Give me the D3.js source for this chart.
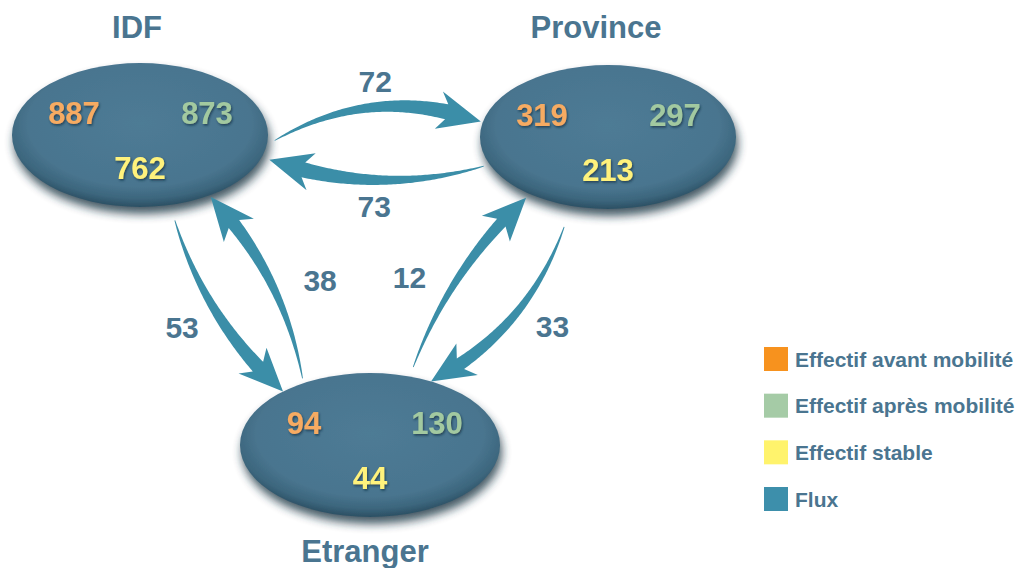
<!DOCTYPE html>
<html>
<head>
<meta charset="utf-8">
<script src="https://cdn.jsdelivr.net/npm/d3@7"></script>
<style>
  html, body { margin: 0; padding: 0; background: #fff; }
  svg { display: block; font-family: "Liberation Sans", Arial, sans-serif; }
</style>
</head>
<body>
<div id="chart"></div>
<script>
(function() {
    'use strict';

    // Data
    var nodes = ['IDF', 'Province', 'Etranger'];
    var avant = [887, 319, 94];     // Effectif avant mobilité
    var apres = [873, 297, 130];    // Effectif après mobilité
    var stable = [762, 213, 44];    // Effectif stable

    var fluxFrom = ['IDF', 'Province', 'IDF', 'Etranger', 'Etranger', 'Province'];
    var fluxTo = ['Province', 'IDF', 'Etranger', 'IDF', 'Province', 'Etranger'];
    var fluxValues = [72, 73, 53, 38, 12, 33];

    var legendLabels = ['Effectif avant mobilité', 'Effectif après mobilité', 'Effectif stable', 'Flux'];
    var legendColors = ['#f7921e', '#a5cba6', '#fff36c', '#3d8fab'];

    // Layout (diagram geometry)
    var nodeCenters = { IDF: [140, 135], Province: [608, 137], Etranger: [370, 445] };
    var nodeRadii = { IDF: [128, 72], Province: [128, 72], Etranger: [130, 72] };
    var titleOffsets = { IDF: [-3, -97], Province: [-12, -99], Etranger: [-5, 117] };
    // angle on source / target ellipse (deg), gap outside, bend, label offset [tangent, normal]
    var fluxGeom = [
        { a0: 4, g0: 7, a1: 192, g1: 2, sag: 24, lab: [2, 26] },
        { a0: 158, g0: 6, a1: 18, g1: 8, sag: 17, lab: [1, 26] },
        { a0: 76, g0: 16, a1: 228, g1: 0, sag: -14, lab: [-7, -37] },
        { a0: 240, g0: 5, a1: 57, g1: 2, sag: -15, lab: [-22, -45] },
        { a0: 288, g0: 10, a1: 128, g1: 5, sag: 12, lab: [-29, 41] },
        { a0: 107, g0: 22, a1: 298, g1: 0, sag: 20, lab: [-19, 36] }
    ];

    var textColor = '#4a7590';
    var numColors = { avant: '#f6ab62', apres: '#a2c9a0', stable: '#fff27c' };

    var width = 1017, height = 568;
    var svg = d3.select('#chart').append('svg')
        .attr('width', width)
        .attr('height', height);

    var defs = svg.append('defs');

    var grad = defs.append('radialGradient')
        .attr('id', 'ellFill')
        .attr('cx', '50%').attr('cy', '42%').attr('r', '58%');
    grad.append('stop').attr('offset', '0%').attr('stop-color', '#4e7b95');
    grad.append('stop').attr('offset', '75%').attr('stop-color', '#49758f');
    grad.append('stop').attr('offset', '90%').attr('stop-color', '#3c667d');
    grad.append('stop').attr('offset', '100%').attr('stop-color', '#2b4f63');

    var blur = defs.append('filter').attr('id', 'shadowBlur')
        .attr('x', '-20%').attr('y', '-20%').attr('width', '140%').attr('height', '140%');
    blur.append('feGaussianBlur').attr('stdDeviation', 5);

    var soft = defs.append('filter').attr('id', 'soft');
    soft.append('feGaussianBlur').attr('stdDeviation', 0.7);

    var txtShadow = defs.append('filter').attr('id', 'txtShadow')
        .attr('x', '-20%').attr('y', '-20%').attr('width', '140%').attr('height', '160%');
    txtShadow.append('feDropShadow')
        .attr('dx', 1).attr('dy', 1.5).attr('stdDeviation', 1)
        .attr('flood-color', '#10283a').attr('flood-opacity', 0.7);

    function ellPoint(name, angle, gap) {
        var c = nodeCenters[name], r = nodeRadii[name];
        var t = angle * Math.PI / 180;
        return [c[0] + (r[0] + gap) * Math.cos(t), c[1] + (r[1] + gap) * Math.sin(t)];
    }

    var shaftScale = d3.scaleLinear().domain([0, 80]).range([10, 15]);

    function arrowShape(p0, p2, sag, shaftW) {
        var dx = p2[0] - p0[0], dy = p2[1] - p0[1];
        var len = Math.hypot(dx, dy);
        var n = [dy / len, -dx / len];
        var c = [(p0[0] + p2[0]) / 2 + n[0] * sag * 2, (p0[1] + p2[1]) / 2 + n[1] * sag * 2];
        var headL = 34, headW = 38, barb = 8;

        function B(s) {
            var u = 1 - s;
            return [u * u * p0[0] + 2 * u * s * c[0] + s * s * p2[0],
                    u * u * p0[1] + 2 * u * s * c[1] + s * s * p2[1]];
        }
        function T(s) {
            var tx = 2 * (1 - s) * (c[0] - p0[0]) + 2 * s * (p2[0] - c[0]);
            var ty = 2 * (1 - s) * (c[1] - p0[1]) + 2 * s * (p2[1] - c[1]);
            var l = Math.hypot(tx, ty);
            return [tx / l, ty / l];
        }

        var N = 100, pts = [], cum = [0];
        for (var i = 0; i <= N; i++) {
            pts.push(B(i / N));
            if (i > 0) cum.push(cum[i - 1] + Math.hypot(pts[i][0] - pts[i - 1][0], pts[i][1] - pts[i - 1][1]));
        }
        var total = cum[N], hi = N;
        while (hi > 0 && total - cum[hi] < headL) hi--;
        var sh = hi / N;

        var left = [], right = [];
        for (var j = 0; j <= hi; j++) {
            var s = j / N, p = B(s), t = T(s);
            var nl = [t[1], -t[0]];
            var w = 0.4 + (shaftW / 2) * Math.pow(s / sh, 0.9);
            left.push([p[0] + nl[0] * w, p[1] + nl[1] * w]);
            right.push([p[0] - nl[0] * w, p[1] - nl[1] * w]);
        }
        var pb = B(sh), tb = T(sh), nb = [tb[1], -tb[0]];
        var hl = [pb[0] + nb[0] * headW / 2 - tb[0] * barb, pb[1] + nb[1] * headW / 2 - tb[1] * barb];
        var hr = [pb[0] - nb[0] * headW / 2 - tb[0] * barb, pb[1] - nb[1] * headW / 2 - tb[1] * barb];
        var poly = left.concat([hl, p2, hr]).concat(right.reverse());
        return { poly: poly, mid: B(0.5), tan: T(0.5) };
    }

    // Flux arrows
    var arrows = fluxValues.map(function(v, i) {
        var g = fluxGeom[i];
        var p0 = ellPoint(fluxFrom[i], g.a0, g.g0);
        var p2 = ellPoint(fluxTo[i], g.a1, g.g1);
        var shp = arrowShape(p0, p2, g.sag, shaftScale(v));
        var nl = [shp.tan[1], -shp.tan[0]];
        shp.label = [shp.mid[0] + shp.tan[0] * g.lab[0] + nl[0] * g.lab[1],
                     shp.mid[1] + shp.tan[1] * g.lab[0] + nl[1] * g.lab[1]];
        shp.value = v;
        return shp;
    });

    // Ellipses
    var nodeG = svg.append('g').selectAll('g')
        .data(nodes)
        .join('g')
        .attr('transform', function(d) { return 'translate(' + nodeCenters[d][0] + ',' + nodeCenters[d][1] + ')'; });

    nodeG.append('ellipse')
        .attr('cx', 2).attr('cy', 7)
        .attr('rx', function(d) { return nodeRadii[d][0]; })
        .attr('ry', function(d) { return nodeRadii[d][1]; })
        .attr('fill', '#16303f')
        .attr('opacity', 0.8)
        .attr('filter', 'url(#shadowBlur)');

    nodeG.append('ellipse')
        .attr('rx', function(d) { return nodeRadii[d][0]; })
        .attr('ry', function(d) { return nodeRadii[d][1]; })
        .attr('fill', 'url(#ellFill)')
        .attr('filter', 'url(#soft)');

    var line = d3.line().curve(d3.curveLinearClosed);

    svg.append('g').selectAll('path')
        .data(arrows)
        .join('path')
        .attr('d', function(d) { return line(d.poly); })
        .attr('fill', '#3b8ea8')
        .attr('filter', 'url(#soft)');

    // Flux labels
    svg.append('g').selectAll('text')
        .data(arrows)
        .join('text')
        .attr('x', function(d) { return d.label[0]; })
        .attr('y', function(d) { return d.label[1]; })
        .attr('dy', '0.36em')
        .attr('text-anchor', 'middle')
        .attr('font-size', 30)
        .attr('font-weight', 'bold')
        .attr('fill', textColor)
        .text(function(d) { return d.value; });

    // Node titles
    svg.append('g').selectAll('text')
        .data(nodes)
        .join('text')
        .attr('x', function(d) { return nodeCenters[d][0] + titleOffsets[d][0]; })
        .attr('y', function(d) { return nodeCenters[d][1] + titleOffsets[d][1]; })
        .attr('text-anchor', 'middle')
        .attr('font-size', 31)
        .attr('font-weight', 'bold')
        .attr('fill', textColor)
        .text(function(d) { return d; });

    // Numbers inside ellipses
    var numSpecs = [
        { key: 'avant', values: avant, dx: -66, dy: -11 },
        { key: 'apres', values: apres, dx: 67, dy: -11 },
        { key: 'stable', values: stable, dx: 0, dy: 44 }
    ];
    numSpecs.forEach(function(spec) {
        svg.append('g').selectAll('text')
            .data(nodes)
            .join('text')
            .attr('x', function(d) { return nodeCenters[d][0] + spec.dx; })
            .attr('y', function(d) { return nodeCenters[d][1] + spec.dy; })
            .attr('text-anchor', 'middle')
            .attr('font-size', 31)
            .attr('font-weight', 'bold')
            .attr('fill', numColors[spec.key])
            .attr('filter', 'url(#txtShadow)')
            .text(function(d, i) { return spec.values[i]; });
    });

    // Legend
    var legendY = d3.scalePoint().domain(legendLabels).range([359, 499]);
    var leg = svg.append('g').selectAll('g')
        .data(legendLabels)
        .join('g')
        .attr('transform', function(d) { return 'translate(764,' + legendY(d) + ')'; });
    leg.append('rect')
        .attr('x', 0).attr('y', -12)
        .attr('width', 24).attr('height', 24)
        .attr('fill', function(d, i) { return legendColors[i]; });
    leg.append('text')
        .attr('x', 31)
        .attr('dy', '0.36em')
        .attr('font-size', 21)
        .attr('font-weight', 'bold')
        .attr('fill', textColor)
        .text(function(d) { return d; });
})();
</script>
</body>
</html>
